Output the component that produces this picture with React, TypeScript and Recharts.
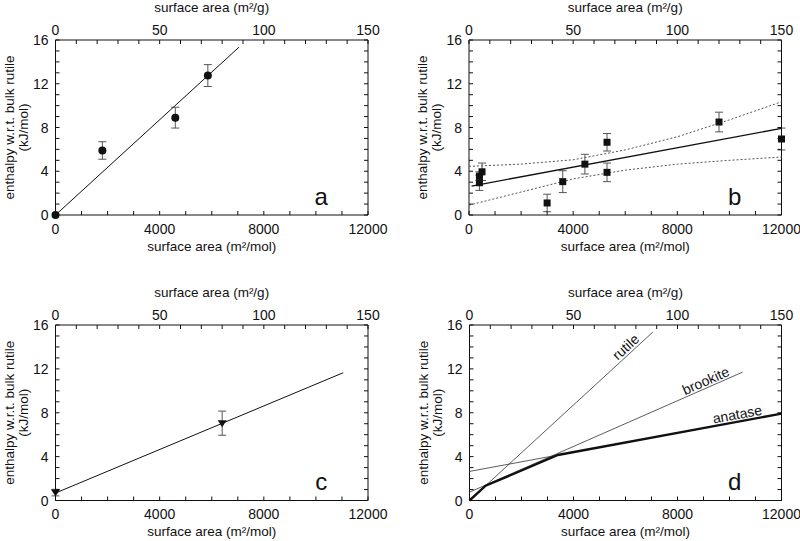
import React from 'react';
import { ScatterChart, Scatter, XAxis, YAxis, ErrorBar, ReferenceDot } from 'recharts';

const FONT = '"Liberation Sans", Arial, Helvetica, sans-serif';
const INK = '#111';
const TITLE_SIZE = 13.5;

// ---------- axis ticks ----------
const xTicks = [0, 1000, 2000, 3000, 4000, 5000, 6000, 7000, 8000, 9000, 10000, 11000, 12000];
const xMajor = [0, 4000, 8000, 12000];
const topTicks = [0, 10, 20, 30, 40, 50, 60, 70, 80, 90, 100, 110, 120, 130, 140, 150];
const topMajor = [0, 50, 100, 150];
const yTicks = [0, 1, 2, 3, 4, 5, 6, 7, 8, 9, 10, 11, 12, 13, 14, 15, 16];
const yMajor = [0, 4, 8, 12, 16];

// ---------- panel a ----------
const aX = [0, 1800, 4600, 5850];
const aY = [0, 5.9, 8.9, 12.75];
const aErr = [0, 0.8, 0.95, 1.0];
const rutileX = [0, 7050];
const rutileY = [0, 15.35];

// ---------- panel b ----------
const bX = [400, 400, 500, 3000, 3600, 4450, 5300, 5300, 9600, 12000];
const bY = [2.95, 3.55, 3.95, 1.1, 3.05, 4.65, 6.65, 3.9, 8.5, 6.95];
const bErr = [0.7, 0.4, 0.8, 0.8, 1.0, 0.9, 0.8, 0.85, 0.9, 1.0];
const bFitX = [100, 12000];
const bFitY = [2.65, 7.92];
const bandX = [0, 2000, 4000, 6000, 8000, 10000, 12000];
const bandUpper = [4.45, 4.65, 5.05, 5.95, 7.15, 8.7, 10.35];
const bandLower = [0.9, 2.1, 3.3, 4.1, 4.65, 5.0, 5.3];

// ---------- panel c ----------
const cX = [0, 6400];
const cY = [0.72, 7.05];
const cErr = [0.3, 1.1];
const cFitX = [0, 11050];
const cFitY = [0.68, 11.65];

// ---------- panel d ----------
const brookiteX = [0, 10500];
const brookiteY = [0.76, 11.7];
const anataseX = [0, 12000];
const anataseY = [2.65, 7.92];
const stableX = [0, 620, 3400, 12000];
const stableY = [0, 1.35, 4.15, 7.92];
const phaseNames = ['rutile', 'brookite', 'anatase'];
const phaseLabelX = [6200, 9200, 10350];
const phaseLabelY = [13.5, 10.3, 7.2];
const phaseLabelAngle = [42.6, 23.7, 10.5];

// ---------- panel letters ----------
const letters = ['a', 'b', 'c', 'd'];
const letterX = 10200;
const letterY = 0.95;

const pts = (xs: number[], ys: number[], es?: number[]) =>
  xs.map((x, i) => ({ x, y: ys[i], err: es ? es[i] : 0 }));

const TICK_LEN = 4;

const BottomTick = (p: any) => {
  const v = p.payload.value;
  return (
    <g>
      <line x1={p.x} x2={p.x} y1={p.y} y2={p.y - TICK_LEN} stroke={INK} strokeWidth={1} />
      {xMajor.includes(v) && (
        <text x={p.x} y={p.y + 18.5} textAnchor="middle" fontSize={14} fontFamily={FONT} fill={INK}>
          {v}
        </text>
      )}
    </g>
  );
};

const TopTick = (p: any) => {
  const v = p.payload.value;
  return (
    <g>
      <line x1={p.x} x2={p.x} y1={p.y} y2={p.y + TICK_LEN} stroke={INK} strokeWidth={1} />
      {topMajor.includes(v) && (
        <text x={p.x} y={p.y - 5} textAnchor="middle" fontSize={14} fontFamily={FONT} fill={INK}>
          {v}
        </text>
      )}
    </g>
  );
};

const LeftTick = (p: any) => {
  const v = p.payload.value;
  return (
    <g>
      <line x1={p.x} x2={p.x + TICK_LEN} y1={p.y} y2={p.y} stroke={INK} strokeWidth={1} />
      {yMajor.includes(v) && (
        <text x={p.x - 7} y={p.y + 5} textAnchor="end" fontSize={14} fontFamily={FONT} fill={INK}>
          {v}
        </text>
      )}
    </g>
  );
};

const RightTick = (p: any) => (
  <line x1={p.x} x2={p.x - TICK_LEN} y1={p.y} y2={p.y} stroke={INK} strokeWidth={1} />
);

const BottomTitle = (p: any) => {
  const vb = p.viewBox;
  return (
    <text x={vb.x + vb.width / 2} y={vb.y + 35.5} textAnchor="middle" fontSize={TITLE_SIZE} fontFamily={FONT} fill={INK}>
      surface area (m²/mol)
    </text>
  );
};

const TopTitle = (p: any) => {
  const vb = p.viewBox;
  return (
    <text x={vb.x + vb.width / 2} y={vb.y + vb.height - 28} textAnchor="middle" fontSize={TITLE_SIZE} fontFamily={FONT} fill={INK}>
      surface area (m²/g)
    </text>
  );
};

const LeftTitle = (p: any) => {
  const vb = p.viewBox;
  const px = vb.x + vb.width;
  const cy = vb.y + vb.height / 2;
  return (
    <g>
      <text transform={`translate(${px - 42},${cy}) rotate(-90)`} textAnchor="middle" fontSize={TITLE_SIZE} fontFamily={FONT} fill={INK}>
        enthalpy w.r.t. bulk rutile
      </text>
      <text transform={`translate(${px - 28},${cy}) rotate(-90)`} textAnchor="middle" fontSize={TITLE_SIZE} fontFamily={FONT} fill={INK}>
        (kJ/mol)
      </text>
    </g>
  );
};

const NoShape = () => <g />;

const CircleShape = (p: any) => <circle cx={p.cx} cy={p.cy} r={4} fill={INK} />;
const SquareShape = (p: any) => <rect x={p.cx - 3.5} y={p.cy - 3.5} width={7} height={7} fill={INK} />;
const TriDownShape = (p: any) => (
  <polygon points={`${p.cx - 4.5},${p.cy - 3} ${p.cx + 4.5},${p.cy - 3} ${p.cx},${p.cy + 4}`} fill={INK} />
);

const lineSeries = (key: string, data: any[], stroke: string, width: number, dash?: string) => (
  <Scatter
    key={key}
    xAxisId="bottom"
    yAxisId="left"
    data={data}
    dataKey="y"
    shape={NoShape}
    line={{ stroke, strokeWidth: width, strokeDasharray: dash, fill: 'none' }}
    lineType="joint"
    isAnimationActive={false}
  />
);

const pointSeries = (key: string, data: any[], shape: any) => (
  <Scatter key={key} xAxisId="bottom" yAxisId="left" data={data} dataKey="y" shape={shape} isAnimationActive={false}>
    <ErrorBar dataKey="err" direction="y" width={4} stroke="#555" strokeWidth={1} isAnimationActive={false} />
  </Scatter>
);

function Panel({ left, top, height, margin, letter, children }: any) {
  return (
    <div style={{ position: 'absolute', left, top, width: 400, height }}>
      <ScatterChart width={400} height={height} margin={margin}>
        <XAxis
          xAxisId="bottom"
          orientation="bottom"
          type="number"
          dataKey="x"
          domain={[0, 12000]}
          ticks={xTicks}
          interval={0}
          tickSize={0}
          tickMargin={0}
          tickLine={false}
          axisLine={{ stroke: INK }}
          tick={BottomTick}
          height={30}
          label={BottomTitle}
        />
        <XAxis
          xAxisId="top"
          orientation="top"
          type="number"
          dataKey="x"
          domain={[0, 150]}
          allowDataOverflow
          ticks={topTicks}
          interval={0}
          tickSize={0}
          tickMargin={0}
          tickLine={false}
          axisLine={{ stroke: INK }}
          tick={TopTick}
          height={30}
          label={TopTitle}
        />
        <YAxis
          yAxisId="left"
          orientation="left"
          type="number"
          dataKey="y"
          domain={[0, 16]}
          ticks={yTicks}
          interval={0}
          tickSize={0}
          tickMargin={0}
          tickLine={false}
          axisLine={{ stroke: INK }}
          tick={LeftTick}
          width={50}
          label={LeftTitle}
        />
        <YAxis
          yAxisId="right"
          orientation="right"
          type="number"
          dataKey="y"
          domain={[0, 16]}
          allowDataOverflow
          ticks={yTicks}
          interval={0}
          tickSize={0}
          tickMargin={0}
          tickLine={false}
          axisLine={{ stroke: INK }}
          tick={RightTick}
          width={5}
        />
        {children}
        <ReferenceDot
          xAxisId="bottom"
          yAxisId="left"
          x={letterX}
          y={letterY}
          r={0}
          fill="none"
          stroke="none"
          label={(p: any) => (
            <text x={p.viewBox.x + (p.viewBox.width || 0) / 2} y={p.viewBox.y + (p.viewBox.height || 0) / 2} textAnchor="middle" fontSize={24} fontFamily={FONT} fill={INK}>
              {letter}
            </text>
          )}
        />
      </ScatterChart>
    </div>
  );
}

const phaseLabel = (i: number) => (
  <ReferenceDot
    key={'pl' + i}
    xAxisId="bottom"
    yAxisId="left"
    x={phaseLabelX[i]}
    y={phaseLabelY[i]}
    r={0}
    fill="none"
    stroke="none"
    label={(p: any) => {
      const cx = p.viewBox.x + (p.viewBox.width || 0) / 2;
      const cy = p.viewBox.y + (p.viewBox.height || 0) / 2;
      return (
        <text
          transform={`translate(${cx},${cy}) rotate(${-phaseLabelAngle[i]})`}
          x={0}
          y={-2.5}
          textAnchor="middle"
          fontSize={14}
          fontFamily={FONT}
          fill={INK}
        >
          {phaseNames[i]}
        </text>
      );
    }}
  />
);

export default function App() {
  return (
    <div style={{ position: 'absolute', left: 0, top: 0, width: 800, height: 541, background: '#fff', fontFamily: FONT }}>
      <Panel left={0} top={0} height={270} margin={{ left: 5.5, right: 27, top: 10, bottom: 25 }} letter={letters[0]}>
        {lineSeries('a-fit', pts(rutileX, rutileY), INK, 1)}
        {pointSeries('a-pts', pts(aX, aY, aErr), CircleShape)}
      </Panel>
      <Panel left={400} top={0} height={270} margin={{ left: 19, right: 13.5, top: 10, bottom: 25 }} letter={letters[1]}>
        {lineSeries('b-up', pts(bandX, bandUpper), '#555', 1, '2 2')}
        {lineSeries('b-lo', pts(bandX, bandLower), '#555', 1, '2 2')}
        {lineSeries('b-fit', pts(bFitX, bFitY), INK, 1.3)}
        {pointSeries('b-pts', pts(bX, bY, bErr), SquareShape)}
      </Panel>
      <Panel left={0} top={270} height={271} margin={{ left: 5.5, right: 27, top: 25, bottom: 10.5 }} letter={letters[2]}>
        {lineSeries('c-fit', pts(cFitX, cFitY), INK, 1)}
        {pointSeries('c-pts', pts(cX, cY, cErr), TriDownShape)}
      </Panel>
      <Panel left={400} top={270} height={271} margin={{ left: 19.5, right: 13.5, top: 25, bottom: 10.5 }} letter={letters[3]}>
        {lineSeries('d-rut', pts(rutileX, rutileY), '#333', 0.8)}
        {lineSeries('d-brk', pts(brookiteX, brookiteY), '#333', 0.8)}
        {lineSeries('d-ana', pts(anataseX, anataseY), '#333', 0.8)}
        {lineSeries('d-stable', pts(stableX, stableY), INK, 2.4)}
        {phaseLabel(0)}
        {phaseLabel(1)}
        {phaseLabel(2)}
      </Panel>
    </div>
  );
}
